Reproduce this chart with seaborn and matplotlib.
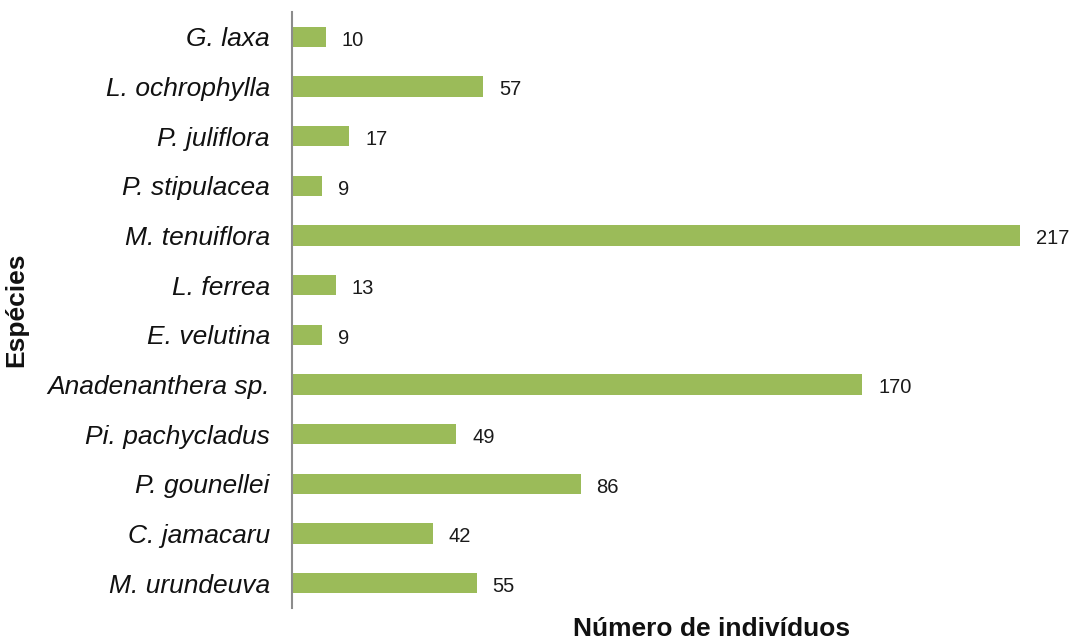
import matplotlib
matplotlib.use("Agg")
import matplotlib.pyplot as plt
import seaborn as sns
import pandas as pd

species = ["G. laxa", "L. ochrophylla", "P. juliflora", "P. stipulacea",
           "M. tenuiflora", "L. ferrea", "E. velutina", "Anadenanthera sp.",
           "Pi. pachycladus", "P. gounellei", "C. jamacaru", "M. urundeuva"]
counts = [10, 57, 17, 9, 217, 13, 9, 170, 49, 86, 42, 55]

df = pd.DataFrame({"Espécies": species, "Número de indivíduos": counts})

sns.set_theme(style="white")
plt.rcParams["font.family"] = ["Liberation Sans", "DejaVu Sans"]

fig = plt.figure(figsize=(10.75, 6.4), dpi=100)
ax = fig.add_axes([292 / 1075, 1 - 608 / 640, (1060 - 292) / 1075, 596 / 640])

sns.barplot(data=df, x="Número de indivíduos", y="Espécies", orient="h",
            color="#9BBB59", saturation=1, width=0.41, linewidth=0, ax=ax)

ax.set_xlim(0, (1060 - 292) / ((1020 - 292) / 217))
ax.set_ylim(len(species) - 0.5, -0.5)

for i, v in enumerate(counts):
    ax.annotate(f"{v}", (v, i), xytext=(11.5, -1), textcoords="offset points",
                ha="left", va="center_baseline", fontsize=14.5, color="#1a1a1a")

for side in ["top", "right", "bottom"]:
    ax.spines[side].set_visible(False)
ax.spines["left"].set_color("#8c8c8c")
ax.spines["left"].set_linewidth(1.5)

ax.set_xticks([])
ax.tick_params(axis="y", length=0, pad=16)
for lbl in ax.get_yticklabels():
    lbl.set_fontstyle("italic")
    lbl.set_fontsize(19)
    lbl.set_color("#111111")

ax.set_xlabel("")
ax.set_ylabel("")
fig.text(712 / 1075, 1 - 629 / 640, "Número de indivíduos", ha="center",
         va="center", fontsize=19, fontweight="bold", color="#111111")
fig.text(16 / 1075, 1 - 310 / 640, "Espécies", ha="center", va="center",
         rotation=90, fontsize=19, fontweight="bold", color="#111111")

fig.savefig("out.png", dpi=100, facecolor="white")
